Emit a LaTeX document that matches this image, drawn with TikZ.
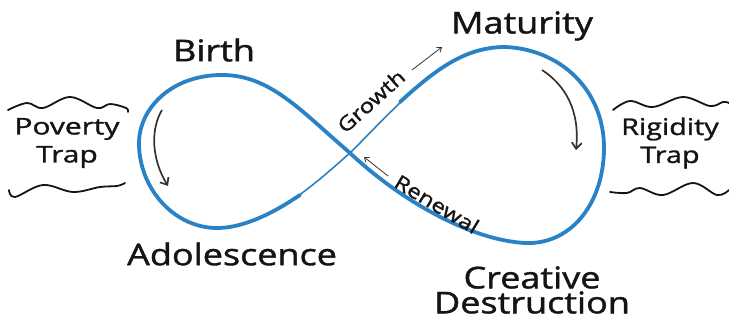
\documentclass[tikz,border=0pt]{standalone}
\usepackage{fontspec}
\setmainfont{Open Sans}[FakeBold=1.2]
\usetikzlibrary{arrows.meta}
\definecolor{loopblue}{HTML}{2A82C6}
\definecolor{ink}{HTML}{141414}
\definecolor{arrowgray}{HTML}{333333}
\newcommand{\wid}[2][1.2]{\scalebox{#1}[1]{#2}}
\begin{document}
\begin{tikzpicture}[x=1pt,y=-1pt,
  stage/.style={font=\fontsize{30}{32}\selectfont, text=ink, inner sep=0pt},
  trap/.style={font=\fontsize{23}{28}\selectfont, text=ink, inner sep=0pt, align=center},
  phase/.style={font=\fontsize{20}{22}\selectfont, text=ink, inner sep=0pt},
  thick loop/.style={draw=loopblue, line width=3.8pt, line cap=round, line join=round},
  thin loop/.style={draw=loopblue, line width=1.6pt, line cap=round},
  turn/.style={draw=arrowgray, line width=1.7pt, -{Straight Barb[length=6pt,width=10pt]}},
  hint/.style={draw=arrowgray, line width=0.8pt, -{Straight Barb[length=4pt,width=6pt]}},
  wave/.style={draw=ink, line width=1.8pt, line cap=round}
]
\useasboundingbox (0,0) rectangle (729,320);

% key points of the loop
\coordinate (X) at (350,153);
\coordinate (RT) at (505,47);
\coordinate (RR) at (604,150);
\coordinate (RB) at (525,243);
\coordinate (LT) at (222,75);
\coordinate (LL) at (139,145);
\coordinate (LB) at (217,228);

% right loop (thick part)
\draw[thick loop] (400,102) .. controls (435,70) and (465,47) .. (RT)
  .. controls (560,49) and (605,90) .. (RR)
  .. controls (603,205) and (570,245) .. (RB)
  .. controls (470,240) and (400,200) .. (X);
% left loop
\draw[thick loop] (X) .. controls (300,110) and (270,75) .. (LT)
  .. controls (170,75) and (138,110) .. (LL)
  .. controls (140,190) and (175,228) .. (LB)
  .. controls (250,228) and (285,205) .. (300,195);
% thin diagonal through the crossing
\draw[thin loop] (298,196) .. controls (320,180) and (335,166) .. (X)
  .. controls (365,138) and (385,117) .. (402,101);

% stage labels
\node[stage] (birth) at (214,50) {\wid{Birth}};
\node[stage] (maturity) at (522,26) {\wid{Maturity}};
\node[stage] (adol) at (232,254) {\wid{Adolescence}};
\node[stage, align=center, font=\fontsize{30}{27}\selectfont] (creative) at (532,290) {\wid{Creative}\\[-2pt]\wid{Destruction}};

% phase labels
\node[phase, rotate=42] (growth) at (371,101) {\wid{Growth}};
\node[phase, rotate=-31] (renewal) at (437,204) {\wid{Renewal}};
\coordinate (g0) at (412,70);
\coordinate (g1) at (442,47);
\draw[hint] (g0) -- (g1);
\coordinate (r0) at (388,176);
\coordinate (r1) at (364,157);
\draw[hint] (r0) -- (r1);

% turning arrows
\coordinate (a0) at (162,110);
\coordinate (a1) at (168,186);
\draw[turn] (a0) .. controls (150,130) and (152,160) .. (a1);
\coordinate (b0) at (542,70);
\coordinate (b1) at (576,150);
\draw[turn] (b0) .. controls (565,85) and (580,110) .. (b1);

% traps
\node[trap] (poverty) at (67,143) {\wid[1.3]{Poverty}\\\wid[1.3]{Trap}};
\node[trap] (rigidity) at (670,143) {\wid[1.25]{Rigidity}\\\wid[1.25]{Trap}};

% wavy borders
\draw[wave] plot[smooth, tension=0.6] coordinates {(8,110) (27,103) (43,108) (70,97) (97,108) (110,104) (126,108) (128,112)};
\draw[wave] plot[smooth, tension=0.6] coordinates {(9,190) (15,197) (43,185) (73,192) (100,187) (117,186) (125,183)};
\draw[wave] plot[smooth, tension=0.6] coordinates {(613,110) (630,101) (653,107) (683,97) (710,106) (723,102) (729,103)};
\draw[wave] plot[smooth, tension=0.6] coordinates {(610,192) (627,193) (640,188) (663,195) (693,183) (717,195) (729,190)};
\end{tikzpicture}
\end{document}
